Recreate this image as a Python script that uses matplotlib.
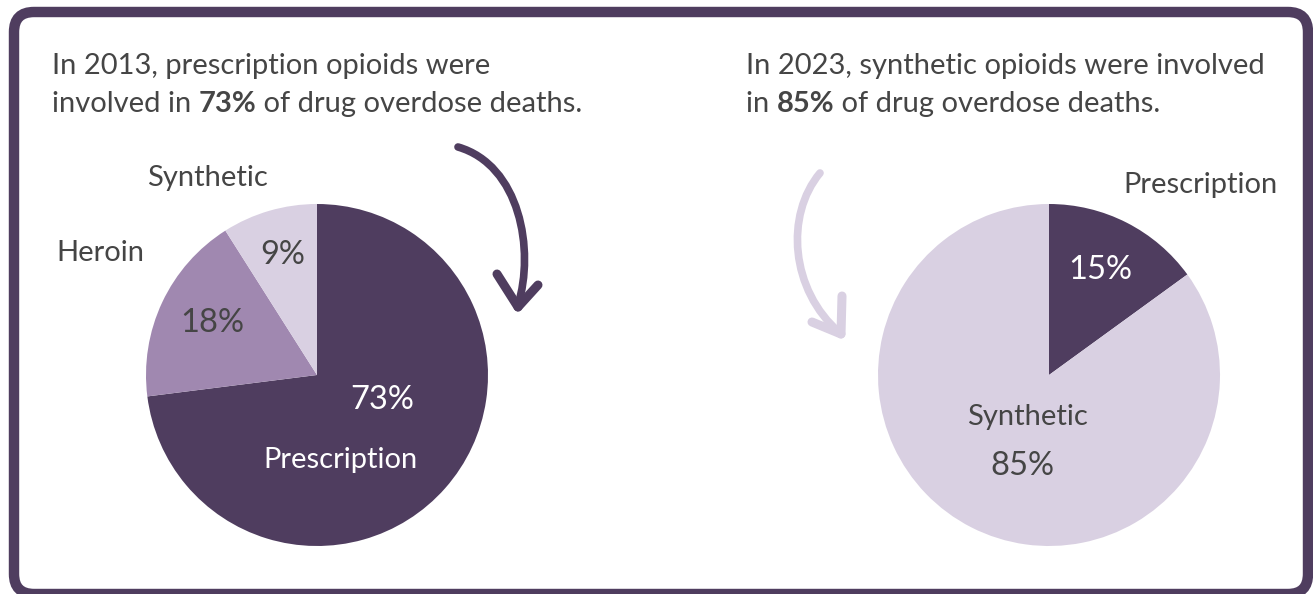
import matplotlib.pyplot as plt
from matplotlib.patches import FancyBboxPatch
from matplotlib.path import Path
from matplotlib.patches import PathPatch

# data
labels_2013 = ["Prescription", "Heroin", "Synthetic"]
shares_2013 = [73, 18, 9]
labels_2023 = ["Prescription", "Synthetic"]
shares_2023 = [15, 85]

DARK = "#4f3d5f"
MID = "#a088b0"
LIGHT = "#d9d0e2"
TXT = "#454545"
W, H = 1313, 594
FS = 21
FSP = 23.5   # percentages are set a little larger

plt.rcParams['font.family'] = ['Lato', 'DejaVu Sans']


def Y(y):
    # image row -> data y (y axis points up)
    return H - y


def main():
    fig = plt.figure(figsize=(W / 100, H / 100), dpi=100)
    ax = fig.add_axes([0, 0, 1, 1])

    # pies
    ax.pie(shares_2013, colors=[DARK, MID, LIGHT], startangle=90, counterclock=False,
           center=(317, Y(375)), radius=171, frame=True,
           wedgeprops=dict(linewidth=0))
    ax.pie(shares_2023, colors=[DARK, LIGHT], startangle=90, counterclock=False,
           center=(1049, Y(375)), radius=171, frame=True,
           wedgeprops=dict(linewidth=0))

    ax.set_xlim(0, W)
    ax.set_ylim(0, H)
    ax.set_aspect('equal')
    ax.axis('off')

    # frame
    frame = FancyBboxPatch((14, Y(594)), 1308 - 14, 594 - 12,
                           boxstyle="round,pad=0,rounding_size=20",
                           fc="none", ec=DARK, lw=7.5, zorder=5)
    ax.add_patch(frame)

    # slice labels, left pie
    ax.text(207, Y(178), labels_2013[2], fontsize=FS, color=TXT, ha='center', va='center')
    ax.text(100, Y(253), labels_2013[1], fontsize=FS, color=TXT, ha='center', va='center')
    ax.text(283, Y(255), f"{shares_2013[2]}%", fontsize=FSP, color=TXT, ha='center', va='center')
    ax.text(212, Y(323), f"{shares_2013[1]}%", fontsize=FSP, color=TXT, ha='center', va='center')
    ax.text(382, Y(400), f"{shares_2013[0]}%", fontsize=FSP, color='white', ha='center', va='center')
    ax.text(340, Y(460), labels_2013[0], fontsize=FS, color='white', ha='center', va='center')

    # slice labels, right pie
    ax.text(1201, Y(185), labels_2023[0], fontsize=FS, color=TXT, ha='center', va='center')
    ax.text(1100, Y(270), f"{shares_2023[0]}%", fontsize=FSP, color='white', ha='center', va='center')
    ax.text(1027, Y(417), labels_2023[1], fontsize=FS, color=TXT, ha='center', va='center')
    ax.text(1022, Y(466), f"{shares_2023[1]}%", fontsize=FSP, color=TXT, ha='center', va='center')

    # headline texts with a bold number
    def headline(x, y1, y2, line1, pre, bold, post):
        ax.text(x, Y(y1), line1, fontsize=FS, color=TXT, ha='left', va='center')
        t = ax.text(x, Y(y2), pre, fontsize=FS, color=TXT, ha='left', va='center')
        t = ax.annotate(bold, xy=(1, 0), xycoords=t, fontsize=FS, color=TXT,
                        fontweight='bold', ha='left', va='bottom')
        ax.annotate(post, xy=(1, 0), xycoords=t, fontsize=FS, color=TXT,
                    ha='left', va='bottom')

    headline(52, 66, 104, "In 2013, prescription opioids were",
             "involved in ", f"{shares_2013[0]}%", " of drug overdose deaths.")
    headline(746, 66, 104, "In 2023, synthetic opioids were involved",
             "in ", f"{shares_2023[1]}%", " of drug overdose deaths.")

    # hand drawn arrows
    def arrow(pts, tip, arm1, arm2, color):
        verts = [(px, Y(py)) for px, py in pts]
        path = Path(verts, [Path.MOVETO, Path.CURVE4, Path.CURVE4, Path.CURVE4])
        ax.add_patch(PathPatch(path, fc='none', ec=color, lw=5.5, capstyle='round'))
        for a in (arm1, arm2):
            ax.plot([a[0], tip[0]], [Y(a[1]), Y(tip[1])], color=color, lw=6.5,
                    solid_capstyle='round')

    arrow([(458, 147), (520, 165), (535, 250), (518, 305)],
          (518, 307), (497, 274), (538, 285), DARK)
    arrow([(820, 173), (785, 215), (790, 290), (840, 333)],
          (841, 334), (812, 322), (842, 296), LIGHT)

    fig.savefig("out.png", dpi=100)


if __name__ == '__main__':
    main()
